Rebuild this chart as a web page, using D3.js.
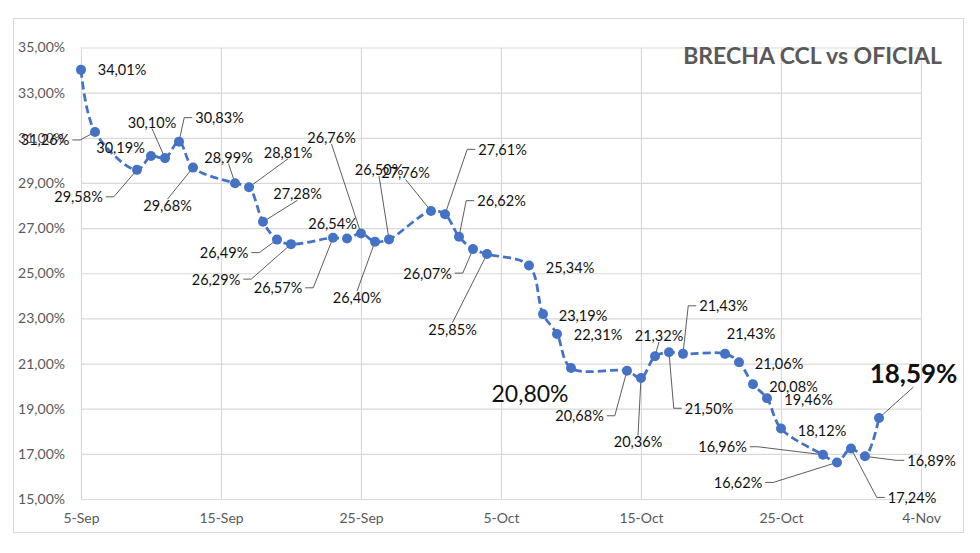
<!DOCTYPE html>
<html>
<head>
<meta charset="utf-8">
<script src="https://cdn.jsdelivr.net/npm/d3@7"></script>
<style>
  html, body { margin: 0; padding: 0; background: #fff; }
  svg { display: block; }
</style>
</head>
<body>
<svg id="chart" width="980" height="553"></svg>
<script>
// ---------------- DATA ----------------
const title = "BRECHA CCL vs OFICIAL";
const dates = [
  "2024-09-05","2024-09-06","2024-09-09","2024-09-10","2024-09-11","2024-09-12","2024-09-13",
  "2024-09-16","2024-09-17","2024-09-18","2024-09-19","2024-09-20",
  "2024-09-23","2024-09-24","2024-09-25","2024-09-26","2024-09-27",
  "2024-09-30","2024-10-01","2024-10-02","2024-10-03","2024-10-04",
  "2024-10-07","2024-10-08","2024-10-09","2024-10-10",
  "2024-10-14","2024-10-15","2024-10-16","2024-10-17","2024-10-18",
  "2024-10-21","2024-10-22","2024-10-23","2024-10-24","2024-10-25",
  "2024-10-28","2024-10-29","2024-10-30","2024-10-31","2024-11-01"
];
const brecha = [
  34.01, 31.26, 29.58, 30.19, 30.10, 30.83, 29.68,
  28.99, 28.81, 27.28, 26.49, 26.29,
  26.57, 26.54, 26.76, 26.40, 26.50,
  27.76, 27.61, 26.62, 26.07, 25.85,
  25.34, 23.19, 22.31, 20.80,
  20.68, 20.36, 21.32, 21.50, 21.43,
  21.43, 21.06, 20.08, 19.46, 18.12,
  16.96, 16.62, 17.24, 16.89, 18.59
];
const xTickLabels = ["2024-09-05","2024-09-15","2024-09-25","2024-10-05","2024-10-15","2024-10-25","2024-11-04"];
const yTickValues = [15, 17, 19, 21, 23, 25, 27, 29, 31, 33, 35];

// ---------------- LABEL LAYOUT (offsets of label centre from its point, leader type, style) ----------------
const labelLayout = [
  [41, 0, null], [-50, 8, "s"], [-58.5, 27, "s"], [-30.5, -9, null], [-13, -36, "v"], [40.5, -24, "s"], [-25.5, 38, "v"],
  [-6.5, -26, "v"], [39, -35, "v"], [34.5, -28, "v"], [-53, 13, "s"], [-75, 35, "s"],
  [-55, 50, "s"], [-14.5, -15, null], [-29.5, -96, "v"], [-18, 56, "v"], [-10, -70, "v"],
  [-25.5, -38, "v"], [57.5, -65, "s"], [42.5, -36, "s"], [-45.5, 24, "s"], [-34.5, 75, "v"],
  [41, 2, null], [40, 1, null], [41, 1, null], [-41, 25, null, "big"],
  [-47.5, 45, "s"], [-3, 64, "v"], [4, -21, "v"], [40, 56, "s"], [40.5, -48, "s"],
  [26, -20, null], [40, 1, null], [40.5, 2, null], [41.5, 1, null], [41, 1.5, null],
  [-100.5, -8, "s"], [-99, 20, "s"], [61, 49, "s"], [66.5, 4, "s"], [34.5, -45, "v", "bold"]
];

// ---------------- CHART ----------------
const FONT = "Lato, 'Open Sans', 'Liberation Sans', sans-serif";
const svg = d3.select("#chart");
const W = 980, H = 553;
const plot = { left: 81, right: 921, top: 47.5, bottom: 499 };

const parse = d3.utcParse("%Y-%m-%d");
const data = dates.map((d, i) => ({ date: parse(d), value: brecha[i], layout: labelLayout[i] }));

const x = d3.scaleUtc()
  .domain([parse(xTickLabels[0]), parse(xTickLabels[xTickLabels.length - 1])])
  .range([plot.left, plot.right]);
const y = d3.scaleLinear().domain([15, 35]).range([plot.bottom, plot.top]);

// outer border
svg.append("rect")
  .attr("x", 13.5).attr("y", 18.5).attr("width", 950).attr("height", 514)
  .attr("fill", "#fff").attr("stroke", "#d9d9d9").attr("stroke-width", 1);

// horizontal gridlines + y labels
const yAxis = svg.append("g")
  .attr("transform", `translate(${plot.left},0)`)
  .call(d3.axisLeft(y).tickValues(yTickValues)
    .tickSize(-(plot.right - plot.left))
    .tickPadding(16)
    .tickFormat(d => d3.format(".2f")(d).replace(".", ",") + "%"));
yAxis.select(".domain").remove();
yAxis.selectAll(".tick line").attr("stroke", "#d9d9d9").attr("stroke-width", 1.2);
yAxis.selectAll(".tick text").attr("fill", "#595959").style("font-family", FONT).style("font-size", "14px");

// vertical gridlines + x labels
const xAxis = svg.append("g")
  .attr("transform", `translate(0,${plot.bottom})`)
  .call(d3.axisBottom(x).tickValues(xTickLabels.map(parse))
    .tickSize(-(plot.bottom - plot.top))
    .tickPadding(14)
    .tickFormat(d3.utcFormat("%-d-%b")));
xAxis.select(".domain").remove();
xAxis.selectAll(".tick line").attr("stroke", "#d9d9d9").attr("stroke-width", 1.2);
xAxis.selectAll(".tick text").attr("fill", "#595959").style("font-family", FONT).style("font-size", "14px");

// title
svg.append("text")
  .attr("x", 942).attr("y", 55)
  .attr("text-anchor", "end").attr("dominant-baseline", "central")
  .attr("fill", "#595959")
  .style("font-family", FONT).style("font-size", "23px").style("font-weight", "bold")
  .text(title);

const leaderG = svg.append("g");
const lineG = svg.append("g");
const labelG = svg.append("g");

// series line
const line = d3.line().x(d => x(d.date)).y(d => y(d.value)).curve(d3.curveCatmullRom.alpha(0.5));
lineG.append("path")
  .datum(data)
  .attr("d", line)
  .attr("fill", "none")
  .attr("stroke", "#4472C4")
  .attr("stroke-width", 2.75)
  .attr("stroke-dasharray", "8,4");

lineG.selectAll("circle")
  .data(data).join("circle")
  .attr("cx", d => x(d.date)).attr("cy", d => y(d.value))
  .attr("r", 5)
  .attr("fill", "#4472C4");

// labels
const fmt = v => d3.format(".2f")(v).replace(".", ",") + "%";
data.forEach(d => {
  const px = x(d.date), py = y(d.value);
  const [dx, dy, leader, style] = d.layout;
  const t = labelG.append("text")
    .attr("x", px + dx).attr("y", py + dy)
    .attr("text-anchor", "middle").attr("dominant-baseline", "central")
    .attr("fill", "#111")
    .style("font-family", FONT)
    .style("font-size", style === "bold" ? "26px" : style === "big" ? "23px" : "14.5px")
    .style("font-weight", style === "bold" ? "bold" : "normal")
    .text(fmt(d.value));
  if (!leader) return;
  const bb = t.node().getBBox();
  const cx = bb.x + bb.width / 2, cy = bb.y + bb.height / 2;
  let pts;
  if (leader === "s") {
    if (px > cx) {
      const sx = bb.x + bb.width + 3;
      pts = [[sx, cy], [sx + 8, cy], [px, py]];
    } else {
      const sx = bb.x - 3;
      pts = [[sx, cy], [sx - 8, cy], [px, py]];
    }
  } else {
    const sy = py > cy ? bb.y + bb.height - 2 : bb.y + 2;
    pts = [[cx, sy], [px, py]];
  }
  leaderG.append("path")
    .attr("d", d3.line()(pts))
    .attr("fill", "none")
    .attr("stroke", "#333")
    .attr("stroke-width", 0.8);
});
</script>
</body>
</html>
